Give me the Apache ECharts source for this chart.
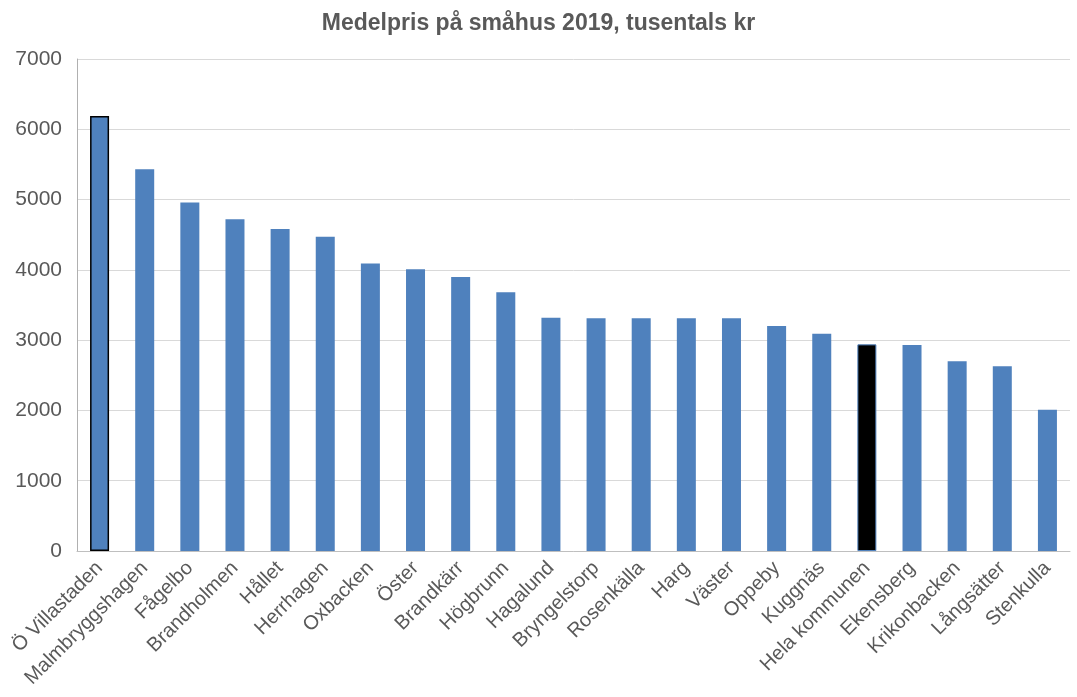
<!DOCTYPE html>
<html>
<head>
<meta charset="utf-8">
<script src="https://cdn.jsdelivr.net/npm/echarts@6/dist/echarts.min.js"></script>
<style>
  html, body { margin: 0; padding: 0; background: #fff; }
  #chart { width: 1077px; height: 697px; }
</style>
</head>
<body>
<div id="chart"></div>
<script>
// områden och medelpris (tusentals kr)
const areas = ['Ö Villastaden', 'Malmbryggshagen', 'Fågelbo', 'Brandholmen', 'Hållet', 'Herrhagen',
  'Oxbacken', 'Öster', 'Brandkärr', 'Högbrunn', 'Hagalund', 'Bryngelstorp', 'Rosenkälla', 'Harg',
  'Väster', 'Oppeby', 'Kuggnäs', 'Hela kommunen', 'Ekensberg', 'Krikonbacken', 'Långsätter', 'Stenkulla']
const prices = [6190, 5430, 4960, 4720, 4580, 4470, 4090, 4010, 3900, 3680, 3320, 3310, 3310, 3310,
  3310, 3200, 3090, 2940, 2930, 2700, 2630, 2010]
const yTicks = [0, 1000, 2000, 3000, 4000, 5000, 6000, 7000]

const font = 'Liberation Sans, Arial, sans-serif'
const grey = '#595959'

const chart = echarts.init(document.getElementById('chart'))

const barData = prices.map((v, i) => {
  if (areas[i] === 'Ö Villastaden') {
    return { value: v, itemStyle: { color: '#4F81BD', borderColor: '#000', borderWidth: 1.5 } }
  }
  if (areas[i] === 'Hela kommunen') {
    return { value: v, itemStyle: { color: '#000', borderColor: '#4F81BD', borderWidth: 1 } }
  }
  return v
})

chart.setOption({
  animation: false,
  title: {
    text: 'Medelpris på småhus 2019, tusentals kr',
    left: 'center',
    top: 7,
    textStyle: { fontFamily: font, fontSize: 23, fontWeight: 'bold', color: grey }
  },
  grid: { left: 77, right: 7, top: 59, bottom: 146 },
  xAxis: {
    type: 'category',
    data: areas,
    axisTick: { show: false },
    axisLine: { lineStyle: { color: '#bfbfbf' } },
    axisLabel: {
      interval: 0,
      rotate: 45,
      margin: 14,
      fontFamily: font,
      fontSize: 20,
      color: grey
    }
  },
  yAxis: {
    type: 'value',
    min: yTicks[0],
    max: yTicks[yTicks.length - 1],
    interval: 1000,
    axisLine: { show: true, lineStyle: { color: '#b0b0b0' } },
    axisTick: { show: false },
    splitLine: { lineStyle: { color: '#d9d9d9' } },
    axisLabel: {
      fontFamily: font,
      fontSize: 21,
      color: grey,
      margin: 15,
      formatter: v => String(v)
    }
  },
  series: [
    {
      type: 'bar',
      data: barData,
      barWidth: 19,
      itemStyle: { color: '#4F81BD' }
    }
  ]
})
</script>
</body>
</html>
